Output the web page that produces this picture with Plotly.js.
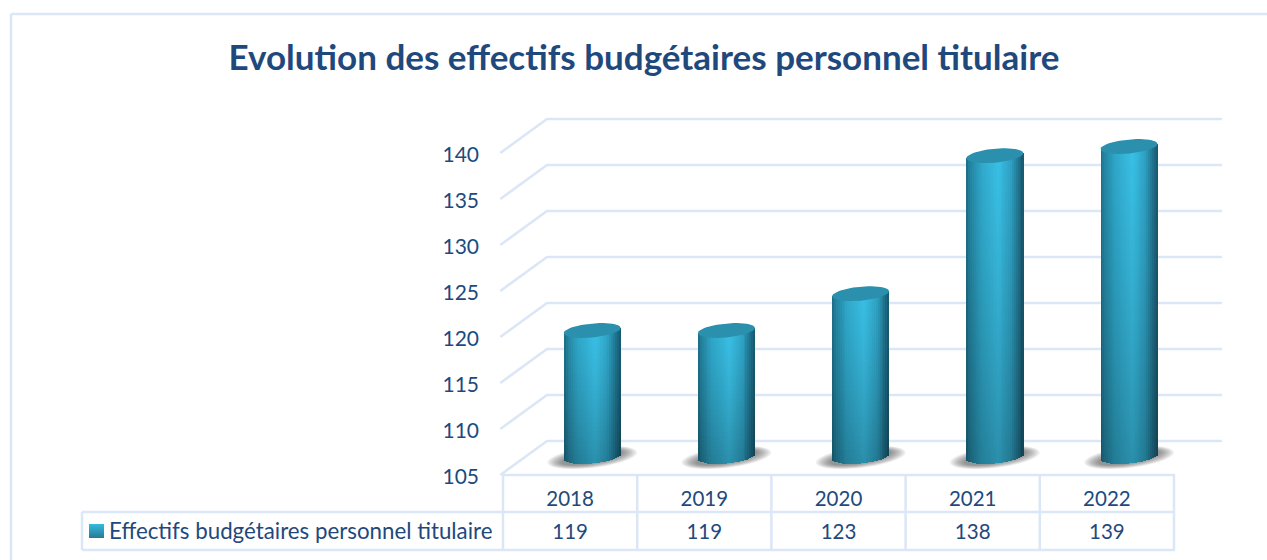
<!DOCTYPE html>
<html><head><meta charset="utf-8">
<script src="https://cdn.plot.ly/plotly-3.0.1.min.js"></script>
<style>html,body{margin:0;padding:0;background:#fff}#c{width:1267px;height:560px}</style></head>
<body><div id="c"></div>
<script>
const years=[2018,2019,2020,2021,2022];
const values=[119,119,123,138,139];
const yTicks=[105,110,115,120,125,130,135,140];
const seriesName='Effectifs budgétaires personnel titulaire';
const chartTitle='Evolution des effectifs budgétaires personnel titulaire';

const W=1267,H=560,mL=495,mR=45,mT=100,mB=4;
const pxX=134.2,pxY=9.2;
const xMin=2017.5-8/pxX, xMax=2022.5+48/pxX;
const yAt=p=>105+(459.3-p)/pxY;            // pixel row to axis value
const paperX=p=>(p-mL)/(W-mL-mR), paperY=p=>(H-mB-p)/(H-mT-mB);
const TXT='#1f497d',RULE='#dbe6f6',FONT='Lato, "Open Sans", sans-serif';
const front=-1.7,back=2,depthX=44/pxX,barShift=0.165,baseV=105.3;
const halfW=28.5/pxX,capB=7/pxY,tilt=2.5/pxY;

function rim(t){return {dx:halfW*Math.cos(t),dy:tilt*Math.cos(t)+capB*Math.sin(t)};}
function mix(a,b,f){return a.map((c,i)=>c+(b[i]-c)*f);}
const stops=[[0,[28,106,130]],[.06,[36,130,158]],[.25,[46,166,200]],[.56,[57,191,229]],[.78,[46,162,196]],[.93,[30,110,136]],[1,[24,86,108]]];
function shade(f,h){
  let c=stops[0][1];
  for(let i=1;i<stops.length;i++){if(f<=stops[i][0]){c=mix(stops[i-1][1],stops[i][1],(f-stops[i-1][0])/(stops[i][0]-stops[i-1][0]));break;}}
  const k=1-0.25*Math.pow(1-h,1.3);
  return 'rgb('+c.map(v=>Math.round(v*k)).join(',')+')';
}

// cylinder bodies: one bar per vertical sliver, split for the top-to-bottom shading
const NS=30;
const bx=[],by=[],bb=[],bw=[],bo=[],bc=[];
years.forEach((yr,i)=>{
  for(let s=0;s<NS;s++){
    const f=(s+.5)/NS,n=2*f-1;
    const bot=baseV+tilt*n-capB*Math.sqrt(1-n*n),top=values[i]+tilt*n;
    const NV=Math.ceil((top-bot)/0.5);
    for(let v=0;v<NV;v++){
      bx.push(yr);
      bb.push(bot+(top-bot)*v/NV);
      by.push((top-bot)/NV+(v<NV-1?.05:0));
      bw.push(2*halfW/NS*1.1);
      bo.push(barShift-halfW+2*halfW*s/NS);
      bc.push(shade(f,(v+.5)/NV));
    }
  }
});

// top caps
const capX=[],capY=[];
years.forEach((yr,i)=>{
  for(let a=0;a<=48;a++){const r=rim(a/48*2*Math.PI);capX.push(yr+barShift+r.dx);capY.push(values[i]+r.dy);}
  capX.push(null);capY.push(null);
});

const data=[
 {type:'bar',name:seriesName,x:years,y:values.map(v=>v-baseV),base:values.map(()=>baseV),
  width:2*halfW*.9,offset:barShift-halfW*.9,marker:{color:'#2a93b5',line:{width:0}},showlegend:false,hoverinfo:'skip'},
 {type:'bar',x:bx,y:by,base:bb,width:bw,offset:bo,marker:{color:bc,line:{width:0}},showlegend:false,hoverinfo:'skip'},
 {type:'scatter',mode:'lines',x:capX,y:capY,fill:'toself',fillcolor:'#2a90ad',line:{width:0,color:'#2a90ad'},showlegend:false,hoverinfo:'skip'},
 {type:'scatter',mode:'text',x:years,y:values.map(()=>yAt(533.5)),text:values.map(String),textposition:'middle center',
  textfont:{family:FONT,size:20.5,color:TXT},showlegend:false,hoverinfo:'skip',cliponaxis:false}
];

const shapes=[];
const line=(x0,y0,x1,y1,w)=>shapes.push({type:'line',xref:'paper',yref:'paper',x0:paperX(x0),y0:paperY(y0),x1:paperX(x1),y1:paperY(y1),line:{color:RULE,width:w||2.5},layer:'below'});
// outer frame (open on the right)
line(11,14,1267,14);line(11,14,11,560);
// data table rules
line(503,475,1175,475);line(82,512,1175,512);line(82,550,1175,550);line(82,512,82,550);
[0,1,2,3,4,5].forEach(k=>line(503+134.2*k,k==0?474:475,503+134.2*k,550));
// perspective gridlines
yTicks.forEach(v=>{
  shapes.push({type:'path',xref:'x',yref:'y',layer:'below',line:{color:RULE,width:2.5},
    path:`M${2017.48},${v+front} L${2017.5+depthX},${v+back} L${xMax},${v+back}`});
});
// soft floor shadows
years.forEach(yr=>{
  const c=yr+barShift,cy=baseV-.1;
  for(let l=0;l<10;l++){
    const a=45-1.6*l,b=10.5-.5*l;
    let p='';
    for(let t=0;t<=40;t++){const q=t/40*2*Math.PI;
      p+=(t?'L':'M')+(c+a/pxX*Math.cos(q))+','+(cy+(5*Math.cos(q)+b*Math.sin(q))/pxY)+' ';}
    shapes.push({type:'path',xref:'x',yref:'y',layer:'below',path:p+'Z',fillcolor:'rgba(50,50,50,0.07)',line:{width:0}});
  }
});
// series key in the data table
for(let k=0;k<14;k++){
  const c=mix([54,184,220],[40,124,152],k/13).map(Math.round);
  shapes.push({type:'rect',xref:'paper',yref:'paper',x0:paperX(89),x1:paperX(104),y0:paperY(524+k),y1:paperY(525+k),
    fillcolor:'rgb('+c.join(',')+')',line:{width:0}});
}

Plotly.newPlot('c',data,{
  width:W,height:H,margin:{l:mL,r:mR,t:mT,b:mB,pad:0},paper_bgcolor:'#fff',plot_bgcolor:'rgba(0,0,0,0)',
  font:{family:FONT,color:TXT},showlegend:false,
  title:{text:chartTitle,font:{family:FONT,size:35,color:TXT,weight:700},x:644/W,xanchor:'center',y:1-58/H,yanchor:'middle'},
  barmode:'overlay',bargap:0,
  xaxis:{type:'linear',range:[xMin,xMax],tickmode:'array',tickvals:years,ticktext:years.map(String),
    anchor:'free',position:(H-mB-475)/(H-mT-mB),showgrid:false,zeroline:false,showline:false,ticks:'',
    ticklabelstandoff:9,tickfont:{family:FONT,size:20.5,color:TXT}},
  yaxis:{type:'linear',range:[yAt(H-mB),yAt(mT)],tickmode:'array',tickvals:yTicks.map(v=>v+front-0.15),ticktext:yTicks.map(String),
    showgrid:false,zeroline:false,showline:false,ticks:'',ticklabelstandoff:15,tickfont:{family:FONT,size:21,color:TXT}},
  annotations:[{xref:'paper',yref:'paper',x:paperX(107.5),y:paperY(530),xanchor:'left',yanchor:'middle',showarrow:false,
    text:seriesName,font:{family:FONT,size:22.3,color:TXT},borderpad:0}],
  shapes:shapes
},{displayModeBar:false,staticPlot:true});
</script></body></html>
